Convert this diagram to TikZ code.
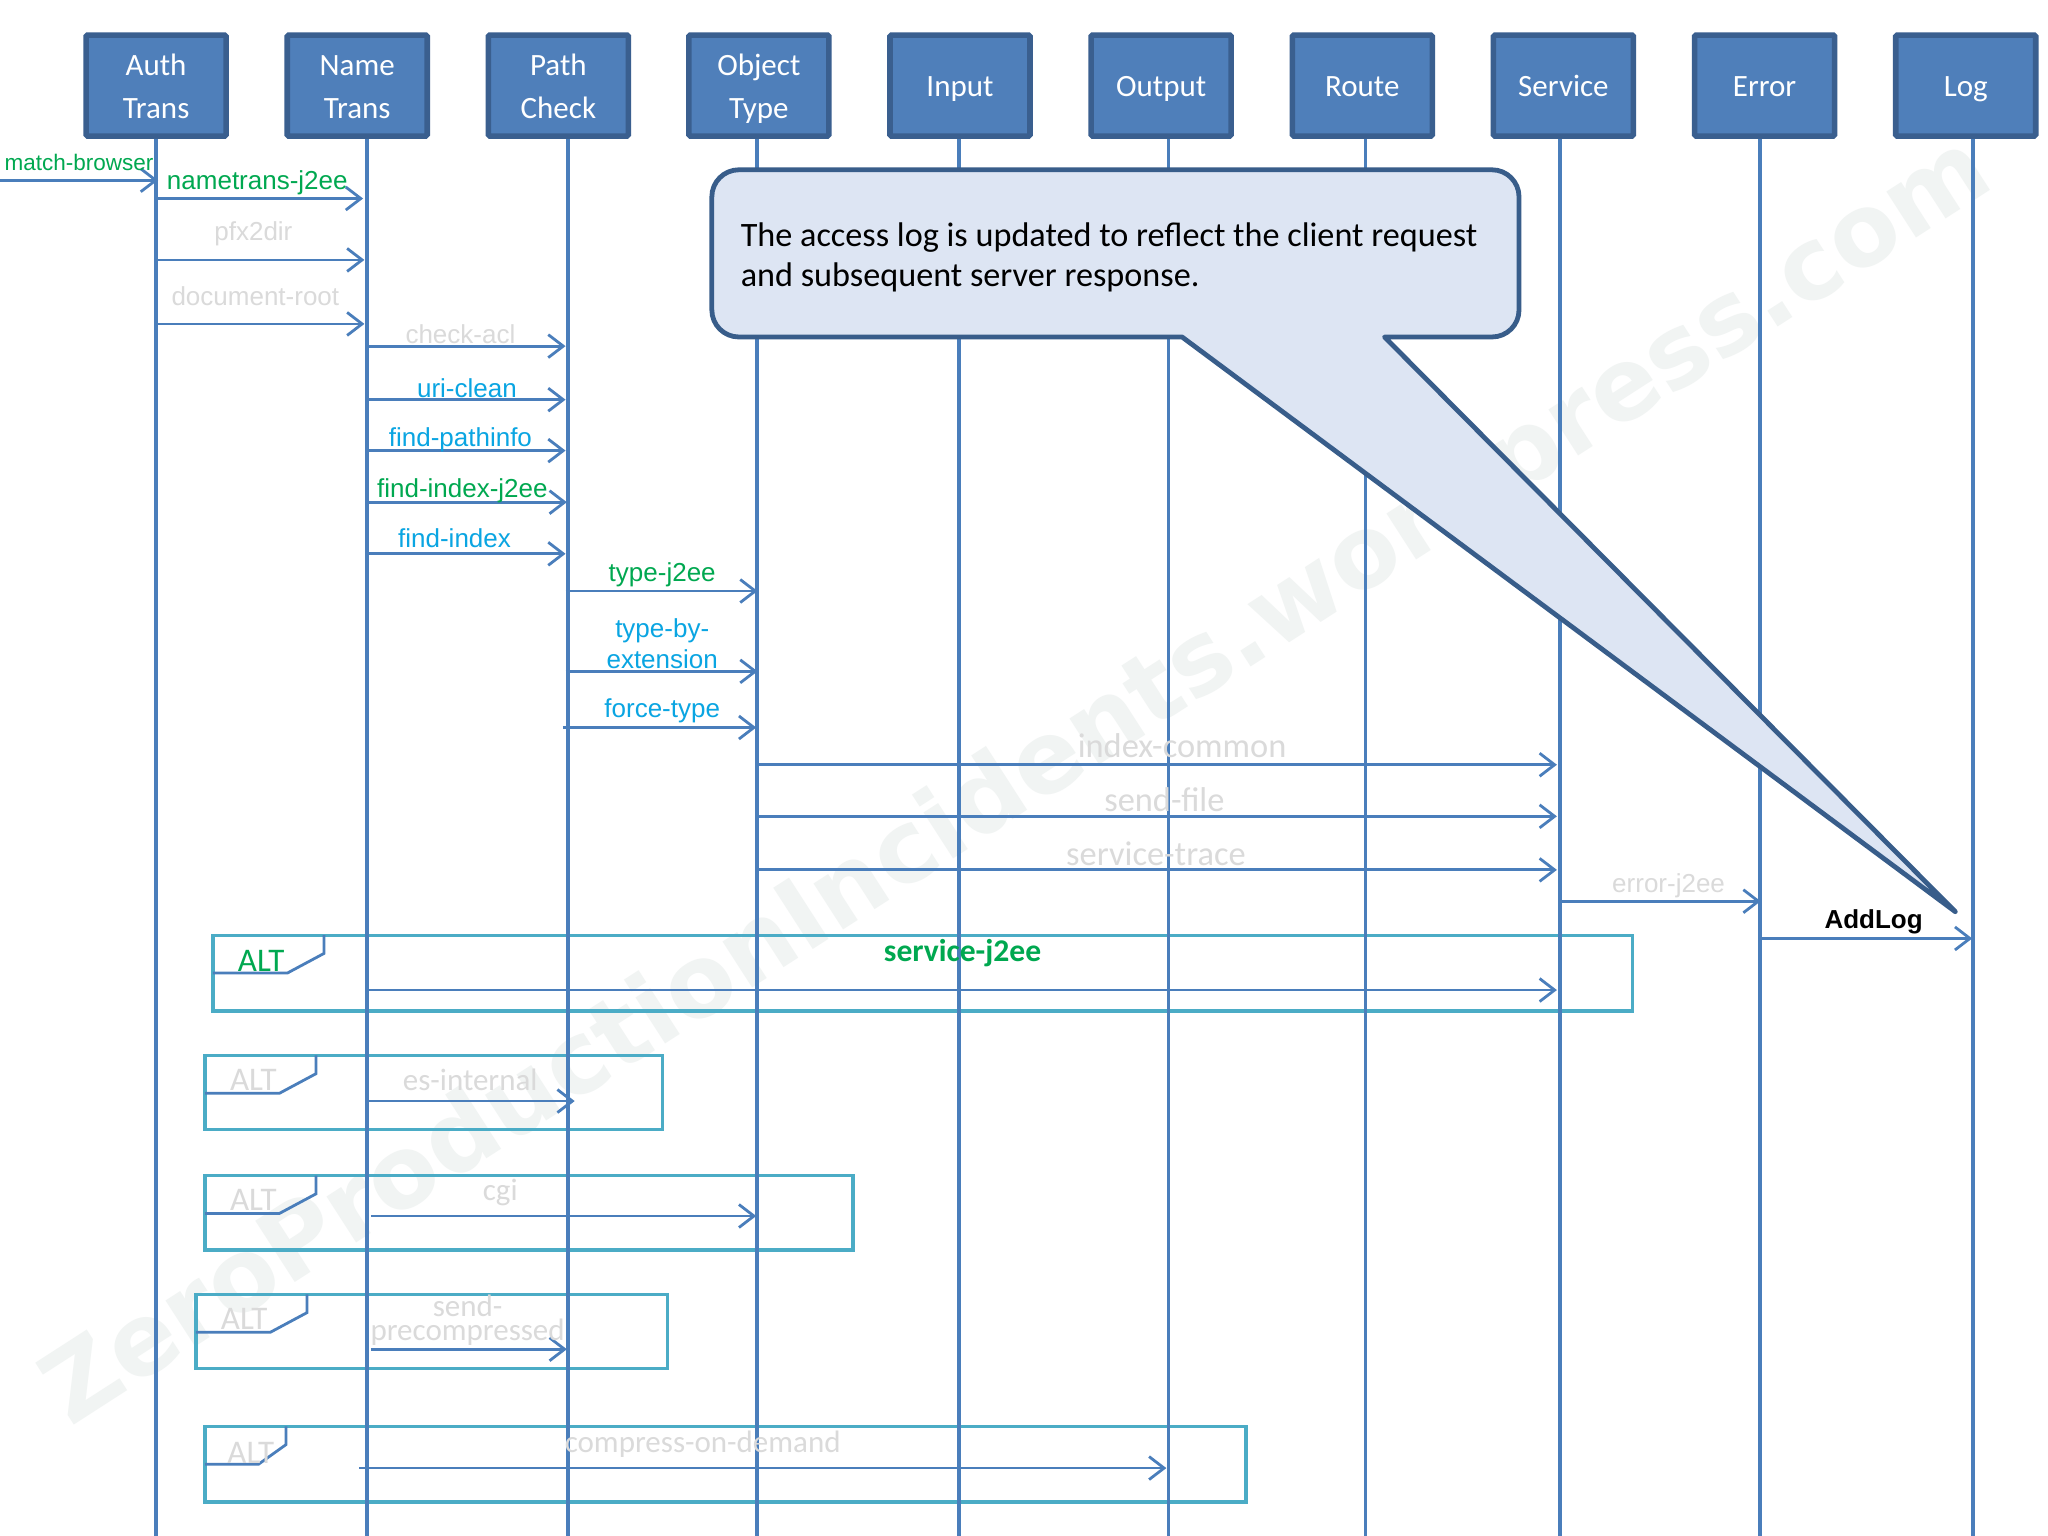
\documentclass[tikz,border=0pt]{standalone}
\usepackage{fontspec}
\setmainfont{Carlito}
\newfontfamily\arialf{Liberation Sans}
\newfontfamily\wmf{DejaVu Sans}
\usetikzlibrary{arrows.meta}
\definecolor{boxfill}{HTML}{4F7FBA}
\definecolor{boxline}{HTML}{3A5F8F}
\definecolor{lifeblue}{HTML}{4A7EBB}
\definecolor{altline}{HTML}{4BACC6}
\definecolor{callfill}{HTML}{DDE5F3}
\definecolor{callline}{HTML}{385D8A}
\definecolor{msggreen}{HTML}{00A850}
\definecolor{msgcyan}{HTML}{0AA5E2}
\definecolor{msggray}{HTML}{DADADA}
\definecolor{wmark}{HTML}{F1F4F3}
\newcommand{\bstr}{\rule[-10.3pt]{0pt}{43pt}}
\tikzset{
  lifebox/.style={draw=boxline,fill=boxfill,line width=5.6pt,rounded corners=1.5pt,minimum width=140pt,minimum height=101pt,inner sep=0pt,text=white,align=center,font=\fontsize{31}{43}\selectfont},
  lifeline/.style={draw=lifeblue,line width=3.6pt},
  msgline/.style={draw=lifeblue,line width=2.8pt,-{Straight Barb[length=15pt,width=23pt,line width=2.8pt]}},
  altbox/.style={draw=altline,line width=3.2pt},
  alttab/.style={draw=lifeblue,line width=2.8pt},
  arlabel/.style={inner sep=0pt,font=\arialf\fontsize{26}{31}\selectfont,align=center},
  cblabel/.style={inner sep=0pt,font=\fontsize{31}{24}\selectfont,align=center},
  cbwide/.style={inner sep=0pt,font=\fontsize{34.4}{34}\selectfont,align=center},
  gl/.style={text=msggreen},
  cl/.style={text=msgcyan},
  gr/.style={text=msggray},
}
\newcommand{\msgarrow}[4]{%
  \coordinate (#1-a) at (#2,#4);
  \coordinate (#1-b) at (#3,#4);
  \draw[msgline] (#1-a) -- (#1-b);
}
\newcommand{\altframe}[7]{% id x1 y1 x2 y2 tabmid tabright
  \coordinate (#1-nw) at (#2,#3);
  \coordinate (#1-se) at (#4,#5);
  \draw[altbox] (#1-nw) rectangle (#1-se);
  \coordinate (#1-t1) at (#2,#3+29);
  \coordinate (#1-t2) at (#6,#3+29);
  \coordinate (#1-t3) at (#7,#3+14);
  \coordinate (#1-t4) at (#7,#3);
  \draw[alttab] (#1-t1) -- (#1-t2) -- (#1-t3) -- (#1-t4);
}
\begin{document}
\begin{tikzpicture}[x=1.30612pt,y=-1.30612pt]
\useasboundingbox (0,0) rectangle (1568,1176);
\fill[white] (0,0) rectangle (1568,1176);
% watermark
\node[rotate=32.8,inner sep=0pt,text=wmark,font=\wmf\bfseries\fontsize{100}{100}\selectfont] (wm) at (780,600) {ZeroProductionIncidents.wordpress.com};
% ALT frames
\altframe{alta}{163}{716}{1250}{774}{220}{248}
\altframe{altb}{157}{808}{507}{865}{214}{242}
\altframe{altc}{157}{900}{653}{957}{214}{242}
\altframe{altd}{150}{991}{511}{1048}{207}{235}
\altframe{alte}{157}{1092}{954}{1150}{198}{219}
% heads
\node[lifebox] (auth) at (119.5,65.5) {\bstr Auth\\\bstr Trans};
\node[lifebox] (name) at (273.5,65.5) {\bstr Name\\\bstr Trans};
\node[lifebox] (path) at (427.5,65.5) {\bstr Path\\\bstr Check};
\node[lifebox] (object) at (581,65.5) {\bstr Object\\\bstr Type};
\node[lifebox] (input) at (735,65.5) {\bstr Input};
\node[lifebox] (output) at (889,65.5) {\bstr Output};
\node[lifebox] (route) at (1043,65.5) {\bstr Route};
\node[lifebox] (service) at (1197,65.5) {\bstr Service};
\node[lifebox] (error) at (1351,65.5) {\bstr Error};
\node[lifebox] (log) at (1505,65.5) {\bstr Log};
% lifelines
\coordinate (l1) at (119.5,1176);
\coordinate (l2) at (281,1176);
\coordinate (l3) at (435,1176);
\coordinate (l4) at (579.5,1176);
\coordinate (l5) at (734,1176);
\coordinate (l6) at (894.5,1176);
\coordinate (l7) at (1045.5,1176);
\coordinate (l8) at (1194.5,1176);
\coordinate (l9) at (1347.5,1176);
\coordinate (l10) at (1510.5,1176);
\draw[lifeline] (auth.south -| l1) -- (l1);
\draw[lifeline] (name.south -| l2) -- (l2);
\draw[lifeline] (path.south -| l3) -- (l3);
\draw[lifeline] (object.south -| l4) -- (l4);
\draw[lifeline] (input.south -| l5) -- (l5);
\draw[lifeline] (output.south -| l6) -- (l6);
\draw[lifeline] (route.south -| l7) -- (l7);
\draw[lifeline] (service.south -| l8) -- (l8);
\draw[lifeline] (error.south -| l9) -- (l9);
\draw[lifeline] (log.south -| l10) -- (l10);
% callout
\draw[draw=callline,fill=callfill,line width=4.8pt,line join=round]
  (905,258) [rounded corners=27pt] -- (545,258) -- (545,130) -- (1163,130) -- (1163,258) [sharp corners] -- (1060,258) -- (1497,698) -- cycle;
\node[anchor=west,inner sep=0pt,align=left,text=black,font=\fontsize{34.2}{40.5}\selectfont] (calltext) at (567,197)
  {The access log is updated to reflect the client request\\and subsequent server response.};
% messages
\msgarrow{m1}{0}{121}{138}
\msgarrow{m2}{120}{278}{152}
\msgarrow{m3}{120}{279}{199}
\msgarrow{m4}{120}{279}{248}
\msgarrow{m5}{281}{433}{265}
\msgarrow{m6}{281}{433}{306}
\msgarrow{m7}{281}{433}{345}
\msgarrow{m8}{281}{434}{384.5}
\msgarrow{m9}{281}{433}{424}
\msgarrow{m10}{433}{580}{452.5}
\msgarrow{m11}{433}{580}{514}
\msgarrow{m12}{431}{579}{557}
\msgarrow{m13}{580}{1192}{585.5}
\msgarrow{m14}{580}{1192}{625}
\msgarrow{m15}{580}{1192}{666}
\msgarrow{m16}{1196}{1348}{690}
\msgarrow{m17}{1348}{1510}{718.5}
\msgarrow{m18}{281}{1192}{758}
\msgarrow{m19}{281}{440}{843}
\msgarrow{m20}{284}{579}{931}
\msgarrow{m21}{284}{434}{1033}
\msgarrow{m22}{275}{893}{1124}
% message labels
\node[arlabel,gl,font=\arialf\fontsize{22.5}{27}\selectfont] (t1) at (60.5,124.5) {match-browser};
\node[arlabel,gl] (t2) at (197,140) {nametrans-j2ee};
\node[arlabel,gr] (t3) at (194,179) {pfx2dir};
\node[arlabel,gr] (t4) at (195.5,227) {document-root};
\node[arlabel,gr] (t5) at (352.5,256) {check-acl};
\node[arlabel,cl] (t6) at (357.5,297) {uri-clean};
\node[arlabel,cl] (t7) at (352.5,337) {find-pathinfo};
\node[arlabel,gl] (t8) at (354,375.5) {find-index-j2ee};
\node[arlabel,cl] (t9) at (348,412) {find-index};
\node[arlabel,gl] (t10) at (507,440) {type-j2ee};
\node[arlabel,cl] (t11) at (507,493) {type-by-\\extension};
\node[arlabel,cl] (t12) at (507,544.5) {force-type};
\node[cbwide,gr] (t13) at (905,571) {index-common};
\node[cbwide,gr] (t14) at (891.5,612) {send-file};
\node[cbwide,gr] (t15) at (885,654) {service-trace};
\node[arlabel,gr] (t16) at (1277.5,678) {error-j2ee};
\node[arlabel,text=black,font=\arialf\bfseries\fontsize{26}{31}\selectfont] (t17) at (1434.5,706) {AddLog};
\node[cblabel,gl,font=\bfseries\fontsize{31.6}{30}\selectfont] (t18) at (737,730) {service-j2ee};
\node[cblabel,gr] (t19) at (360,827) {es-internal};
\node[cblabel,gr] (t20) at (383,913) {cgi};
\node[cblabel,gr] (t21) at (358,1011) {send-\\precompressed};
\node[cblabel,gr] (t22) at (538,1106) {compress-on-demand};
% ALT labels
\node[cblabel,gl,font=\fontsize{33}{33}\selectfont] (a1) at (200,735.5) {ALT};
\node[cblabel,gr,font=\fontsize{33}{33}\selectfont] (a2) at (194,827) {ALT};
\node[cblabel,gr,font=\fontsize{33}{33}\selectfont] (a3) at (194,918.5) {ALT};
\node[cblabel,gr,font=\fontsize{33}{33}\selectfont] (a4) at (187,1010) {ALT};
\node[cblabel,gr,font=\fontsize{33}{33}\selectfont] (a5) at (192,1112) {ALT};
\end{tikzpicture}
\end{document}
